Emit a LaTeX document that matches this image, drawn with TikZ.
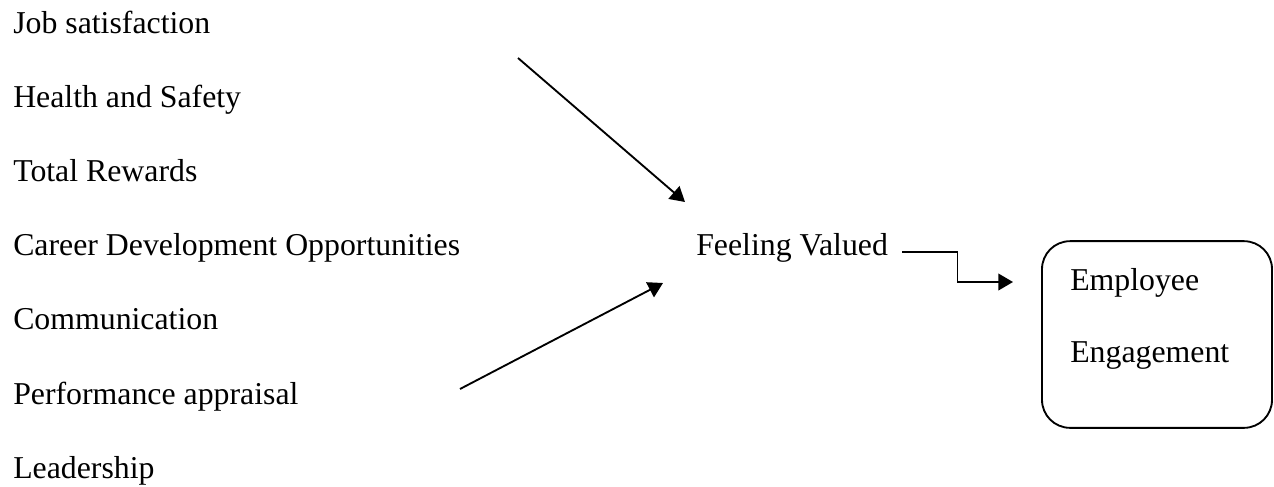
\documentclass[tikz,border=0pt]{standalone}
\usepackage{fontspec}
\setmainfont{Liberation Serif}
\usetikzlibrary{arrows.meta,calc}

\begin{document}
\begin{tikzpicture}[x=0.75pt, y=-0.75pt,
  every node/.style={font=\fontsize{23.85}{28}\selectfont, inner sep=0pt, anchor=base west},
  link/.style={line width=1.4pt, -{Triangle[length=11pt,width=12.5pt]}},
  roundbox/.style={draw, line width=1.4pt, rounded corners=21pt,
    minimum width=172.5pt, minimum height=140pt, anchor=center}]
  \useasboundingbox (0,0) rectangle (1274,486);
  % factors, one per line
  \node (job) at (13,33) {Job satisfaction};
  \node (health) at (13,107) {Health and Safety};
  \node (rewards) at (13,181) {Total Rewards};
  \node (career) at (13,255) {Career Development Opportunities};
  \node (comm) at (13,329) {Communication};
  \node (appraisal) at (13,404) {Performance appraisal};
  \node (leader) at (13,478) {Leadership};
  % mediator
  \node (valued) at (696,255) {Feeling Valued};
  % outcome box
  \node[roundbox] (engage) at (1157,334.5) {};
  \node (employee) at (1070,290) {Employee};
  \node (engagement) at (1070,362) {Engagement};
  % arrow ends
  \coordinate (upper) at (518,58);
  \coordinate (uppertip) at (685,202);
  \coordinate (lower) at (460,389);
  \coordinate (lowertip) at (663,283);
  \coordinate (fvout) at (902,252);
  \coordinate (fvin) at (1013,282);
  % arrows into the mediator
  \draw[link] (upper) -- (uppertip);
  \draw[link] (lower) -- (lowertip);
  % elbow into the box
  \draw[link] (fvout) -| ($(fvout)!0.5!(fvin)$) |- (fvin);
\end{tikzpicture}
\end{document}
